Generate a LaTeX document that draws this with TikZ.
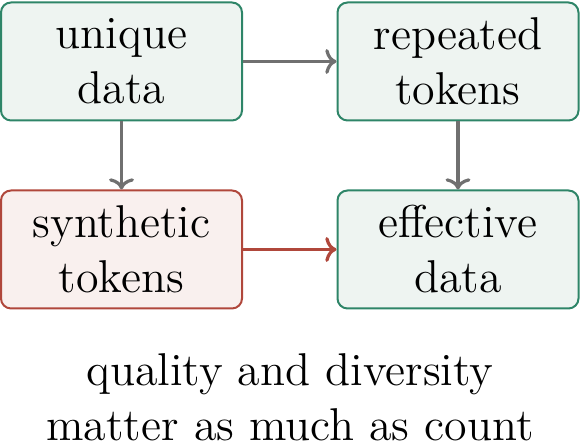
\documentclass[tikz,border=0pt]{standalone}
\usetikzlibrary{arrows.meta}
\definecolor{gborder}{HTML}{2E8568}
\definecolor{gfill}{HTML}{EEF4F1}
\definecolor{rborder}{HTML}{B0473B}
\definecolor{rfill}{HTML}{F9F0EE}
\definecolor{agray}{HTML}{707070}
\tikzset{
  box/.style={draw, line width=0.5pt, rounded corners=2.5pt, minimum width=60.25pt, minimum height=29.5pt, align=center, inner sep=0pt, font=\fontsize{11.5}{13.75}\selectfont},
  gbox/.style={box, draw=gborder, fill=gfill},
  rbox/.style={box, draw=rborder, fill=rfill},
  conn/.style={line width=0.8pt, -{To[length=2.8pt,width=6.2pt]}},
  captext/.style={anchor=base, inner sep=0pt, font=\fontsize{11.5}{13.75}\selectfont},
}
\begin{document}
\begin{tikzpicture}[x=0.25pt,y=-0.25pt]
\useasboundingbox (0,0) rectangle (580,445);
\node[gbox] (ud) at (121.5,61.5) {unique\\data};
\node[gbox] (rt) at (458,61.5) {repeated\\tokens};
\node[rbox] (st) at (121.5,249.5) {synthetic\\tokens};
\node[gbox] (ed) at (458,249.5) {effective\\data};
\draw[conn, agray] (ud) -- (rt);
\draw[conn, agray] (ud) -- (st);
\draw[conn, agray] (rt) -- (ed);
\draw[conn, rborder] (st) -- (ed);
\node[captext] (cap1) at (290,386) {quality and diversity};
\node[captext] (cap2) at (290,441) {matter as much as count};
\end{tikzpicture}
\end{document}
